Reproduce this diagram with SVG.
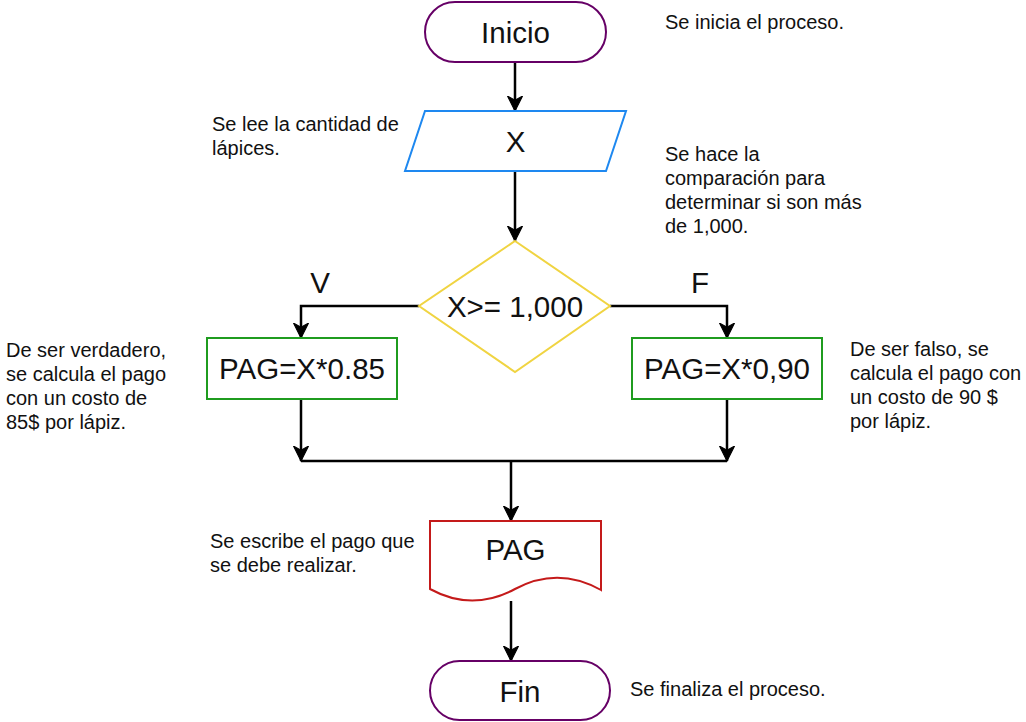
<svg xmlns="http://www.w3.org/2000/svg" width="1026" height="722" viewBox="0 0 1026 722">
<style>
.big{font-family:"Liberation Sans",Arial,sans-serif;font-size:29.5px;fill:#111;text-anchor:middle}
.note{font-family:"Liberation Sans",Arial,sans-serif;font-size:20px;fill:#111}
.term{fill:#fff;stroke:#660066;stroke-width:2}
.proc{fill:#fff;stroke:#1f9c1f;stroke-width:2}
.conn{fill:none;stroke:#000;stroke-width:2.5}
</style>
<defs>
<marker id="arr" markerUnits="userSpaceOnUse" markerWidth="16" markerHeight="16" viewBox="0 -7 14 14" refX="13" refY="0" orient="auto">
<path d="M0,-6.5 L13,0 L0,6.5 L3.5,0 Z" fill="#000" stroke="#000" stroke-width="1"/>
</marker>
</defs>
<rect width="1026" height="722" fill="#fff"/>
<g id="connectors">
<path class="conn" d="M515,62 V111" marker-end="url(#arr)"/>
<path class="conn" d="M515,171 V241" marker-end="url(#arr)"/>
<path class="conn" d="M419,306 H301 V338" marker-end="url(#arr)"/>
<path class="conn" d="M610,306 H727 V338" marker-end="url(#arr)"/>
<path class="conn" d="M301,399 V461" marker-end="url(#arr)"/>
<path class="conn" d="M727,399 V461" marker-end="url(#arr)"/>
<path class="conn" d="M301,461 H727"/>
<path class="conn" d="M511,461 V521" marker-end="url(#arr)"/>
<path class="conn" d="M511,601 V661" marker-end="url(#arr)"/>
</g>
<g id="inicio">
<rect class="term" x="425" y="2" width="181" height="60" rx="30" ry="30"/>
<text class="big" x="515.5" y="43">Inicio</text>
</g>
<g id="entrada">
<polygon points="425,111 626,111 606,171 405,171" fill="#fff" stroke="#1e88f0" stroke-width="2"/>
<text class="big" x="515.5" y="152">X</text>
</g>
<g id="decision">
<polygon points="515,241 610,306 515,372 419,306" fill="#fff" stroke="#f0d442" stroke-width="2"/>
<text class="big" x="515" y="317">X&gt;= 1,000</text>
</g>
<g id="label-v"><text class="big" x="320" y="293">V</text></g>
<g id="label-f"><text class="big" x="700" y="293">F</text></g>
<g id="proc-v">
<rect class="proc" x="207" y="338" width="190" height="61"/>
<text class="big" x="302" y="379">PAG=X*0.85</text>
</g>
<g id="proc-f">
<rect class="proc" x="632" y="338" width="190" height="61"/>
<text class="big" x="727" y="379">PAG=X*0,90</text>
</g>
<g id="salida">
<path d="M430,521 H601 V590 Q558,566 515,589 Q472,612 430,589 Z" fill="#fff" stroke="#c41a1a" stroke-width="2"/>
<text class="big" x="515.5" y="560">PAG</text>
</g>
<g id="fin">
<rect class="term" x="430" y="661" width="180" height="59" rx="29.5" ry="29.5"/>
<text class="big" x="520" y="702">Fin</text>
</g>
<g id="notes">
<text class="note" x="665" y="29">Se inicia el proceso.</text>
<text class="note" x="212" y="131">Se lee la cantidad de</text>
<text class="note" x="212" y="155">lápices.</text>
<text class="note" x="665" y="161">Se hace la</text>
<text class="note" x="665" y="185">comparación para</text>
<text class="note" x="665" y="209">determinar si son más</text>
<text class="note" x="665" y="233">de 1,000.</text>
<text class="note" x="6" y="357">De ser verdadero,</text>
<text class="note" x="6" y="381">se calcula el pago</text>
<text class="note" x="6" y="405">con un costo de</text>
<text class="note" x="6" y="429">85$ por lápiz.</text>
<text class="note" x="850" y="356">De ser falso, se</text>
<text class="note" x="850" y="380">calcula el pago con</text>
<text class="note" x="850" y="404">un costo de 90 $</text>
<text class="note" x="850" y="428">por lápiz.</text>
<text class="note" x="210" y="548">Se escribe el pago que</text>
<text class="note" x="210" y="572">se debe realizar.</text>
<text class="note" x="630" y="696">Se finaliza el proceso.</text>
</g>
</svg>
